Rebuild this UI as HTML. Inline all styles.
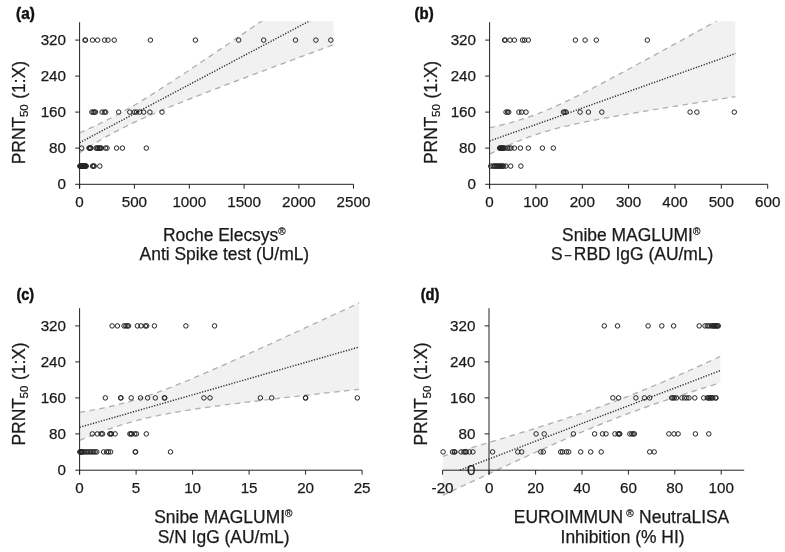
<!DOCTYPE html>
<html><head><meta charset="utf-8"><title>Figure</title>
<style>
html,body{margin:0;padding:0;background:#fff;}
body{width:785px;height:552px;overflow:hidden;}
svg{display:block;filter:grayscale(1);font-family:"Liberation Sans",Arial,sans-serif;}
</style></head><body>
<svg width="785" height="552" viewBox="0 0 785 552">
<rect width="785" height="552" fill="#fff"/>
<clipPath id="clipa"><rect x="79.6" y="21.2" width="254.1" height="178.8"/></clipPath>
<g clip-path="url(#clipa)">
<polygon points="79.6,132.9 83.8,131.0 88.1,129.1 92.3,127.2 96.5,125.2 100.8,123.2 105.0,121.1 109.2,119.0 113.5,116.8 117.7,114.5 121.9,112.2 126.2,109.9 130.4,107.4 134.7,105.0 138.9,102.4 143.1,99.9 147.4,97.3 151.6,94.6 155.8,92.0 160.1,89.3 164.3,86.5 168.5,83.8 172.8,81.0 177.0,78.3 181.2,75.5 185.5,72.7 189.7,69.8 193.9,67.0 198.2,64.2 202.4,61.3 206.6,58.5 210.9,55.6 215.1,52.8 219.4,49.9 223.6,47.0 227.8,44.2 232.1,41.3 236.3,38.4 240.5,35.5 244.8,32.6 249.0,29.7 253.2,26.9 257.5,24.0 261.7,21.1 265.9,18.2 270.2,15.3 274.4,12.4 278.6,9.5 282.9,6.6 287.1,3.6 291.4,0.7 295.6,-2.2 299.8,-5.1 304.1,-8.0 308.3,-10.9 312.5,-13.8 316.8,-16.7 321.0,-19.6 325.2,-22.6 329.5,-25.5 333.7,-28.4 333.7,44.6 329.5,46.2 325.2,47.7 321.0,49.3 316.8,50.9 312.5,52.5 308.3,54.0 304.1,55.6 299.8,57.2 295.6,58.8 291.4,60.3 287.1,61.9 282.9,63.5 278.6,65.1 274.4,66.7 270.2,68.3 265.9,69.8 261.7,71.4 257.5,73.0 253.2,74.6 249.0,76.2 244.8,77.8 240.5,79.4 236.3,81.0 232.1,82.6 227.8,84.2 223.6,85.8 219.4,87.5 215.1,89.1 210.9,90.7 206.6,92.4 202.4,94.0 198.2,95.6 193.9,97.3 189.7,99.0 185.5,100.6 181.2,102.3 177.0,104.0 172.8,105.7 168.5,107.5 164.3,109.2 160.1,111.0 155.8,112.8 151.6,114.6 147.4,116.4 143.1,118.3 138.9,120.2 134.7,122.2 130.4,124.2 126.2,126.3 121.9,128.4 117.7,130.6 113.5,132.8 109.2,135.1 105.0,137.4 100.8,139.9 96.5,142.3 92.3,144.8 88.1,147.4 83.8,150.0 79.6,152.6" fill="#f1f1f1"/>
<polyline points="79.6,132.9 83.8,131.0 88.1,129.1 92.3,127.2 96.5,125.2 100.8,123.2 105.0,121.1 109.2,119.0 113.5,116.8 117.7,114.5 121.9,112.2 126.2,109.9 130.4,107.4 134.7,105.0 138.9,102.4 143.1,99.9 147.4,97.3 151.6,94.6 155.8,92.0 160.1,89.3 164.3,86.5 168.5,83.8 172.8,81.0 177.0,78.3 181.2,75.5 185.5,72.7 189.7,69.8 193.9,67.0 198.2,64.2 202.4,61.3 206.6,58.5 210.9,55.6 215.1,52.8 219.4,49.9 223.6,47.0 227.8,44.2 232.1,41.3 236.3,38.4 240.5,35.5 244.8,32.6 249.0,29.7 253.2,26.9 257.5,24.0 261.7,21.1 265.9,18.2 270.2,15.3 274.4,12.4 278.6,9.5 282.9,6.6 287.1,3.6 291.4,0.7 295.6,-2.2 299.8,-5.1 304.1,-8.0 308.3,-10.9 312.5,-13.8 316.8,-16.7 321.0,-19.6 325.2,-22.6 329.5,-25.5 333.7,-28.4" fill="none" stroke="#b0b0b0" stroke-width="1.35" stroke-dasharray="5.5 4.5"/>
<polyline points="79.6,152.6 83.8,150.0 88.1,147.4 92.3,144.8 96.5,142.3 100.8,139.9 105.0,137.4 109.2,135.1 113.5,132.8 117.7,130.6 121.9,128.4 126.2,126.3 130.4,124.2 134.7,122.2 138.9,120.2 143.1,118.3 147.4,116.4 151.6,114.6 155.8,112.8 160.1,111.0 164.3,109.2 168.5,107.5 172.8,105.7 177.0,104.0 181.2,102.3 185.5,100.6 189.7,99.0 193.9,97.3 198.2,95.6 202.4,94.0 206.6,92.4 210.9,90.7 215.1,89.1 219.4,87.5 223.6,85.8 227.8,84.2 232.1,82.6 236.3,81.0 240.5,79.4 244.8,77.8 249.0,76.2 253.2,74.6 257.5,73.0 261.7,71.4 265.9,69.8 270.2,68.3 274.4,66.7 278.6,65.1 282.9,63.5 287.1,61.9 291.4,60.3 295.6,58.8 299.8,57.2 304.1,55.6 308.3,54.0 312.5,52.5 316.8,50.9 321.0,49.3 325.2,47.7 329.5,46.2 333.7,44.6" fill="none" stroke="#b0b0b0" stroke-width="1.35" stroke-dasharray="5.5 4.5"/>
<line x1="79.6" y1="142.7" x2="333.7" y2="8.1" stroke="#2a2a2a" stroke-width="1.4" stroke-dasharray="1.25 1.52"/>
</g>
<g stroke="#222" stroke-width="1" fill="none">
<line x1="79.6" y1="22.2" x2="79.6" y2="188.70000000000002"/>
<line x1="75.19999999999999" y1="184.3" x2="353.5" y2="184.3"/>
<line x1="75.19999999999999" y1="148.1" x2="79.6" y2="148.1"/>
<line x1="75.19999999999999" y1="112.1" x2="79.6" y2="112.1"/>
<line x1="75.19999999999999" y1="76.1" x2="79.6" y2="76.1"/>
<line x1="75.19999999999999" y1="40.1" x2="79.6" y2="40.1"/>
<line x1="79.6" y1="184.3" x2="79.6" y2="188.70000000000002"/>
<line x1="134.4" y1="184.3" x2="134.4" y2="188.70000000000002"/>
<line x1="189.3" y1="184.3" x2="189.3" y2="188.70000000000002"/>
<line x1="244.1" y1="184.3" x2="244.1" y2="188.70000000000002"/>
<line x1="298.9" y1="184.3" x2="298.9" y2="188.70000000000002"/>
<line x1="353.5" y1="184.3" x2="353.5" y2="188.70000000000002"/>
</g>
<g font-size="15.2" fill="#1a1a1a" stroke="#1a1a1a" stroke-width="0.25">
<text x="66.0" y="188.8" text-anchor="end">0</text>
<text x="66.0" y="152.8" text-anchor="end">80</text>
<text x="66.0" y="116.8" text-anchor="end">160</text>
<text x="66.0" y="80.8" text-anchor="end">240</text>
<text x="66.0" y="44.8" text-anchor="end">320</text>
<text x="79.6" y="207.4" text-anchor="middle">0</text>
<text x="134.4" y="207.4" text-anchor="middle">500</text>
<text x="189.3" y="207.4" text-anchor="middle">1000</text>
<text x="244.1" y="207.4" text-anchor="middle">1500</text>
<text x="298.9" y="207.4" text-anchor="middle">2000</text>
<text x="353.5" y="207.4" text-anchor="middle">2500</text>
</g>
<g fill="none" stroke="#242424" stroke-width="1.0">
<circle cx="85.0" cy="40.1" r="2.25"/>
<circle cx="85.5" cy="40.1" r="2.25"/>
<circle cx="92.5" cy="40.1" r="2.25"/>
<circle cx="97.6" cy="40.1" r="2.25"/>
<circle cx="104.6" cy="40.1" r="2.25"/>
<circle cx="108.0" cy="40.1" r="2.25"/>
<circle cx="114.2" cy="40.1" r="2.25"/>
<circle cx="150.4" cy="40.1" r="2.25"/>
<circle cx="195.4" cy="40.1" r="2.25"/>
<circle cx="238.7" cy="40.1" r="2.25"/>
<circle cx="263.7" cy="40.1" r="2.25"/>
<circle cx="295.5" cy="40.1" r="2.25"/>
<circle cx="315.9" cy="40.1" r="2.25"/>
<circle cx="330.8" cy="40.1" r="2.25"/>
<circle cx="91.9" cy="112.1" r="2.25"/>
<circle cx="93.2" cy="112.1" r="2.25"/>
<circle cx="94.3" cy="112.1" r="2.25"/>
<circle cx="95.5" cy="112.1" r="2.25"/>
<circle cx="102.1" cy="112.1" r="2.25"/>
<circle cx="104.4" cy="112.1" r="2.25"/>
<circle cx="105.7" cy="112.1" r="2.25"/>
<circle cx="118.7" cy="112.1" r="2.25"/>
<circle cx="129.8" cy="112.1" r="2.25"/>
<circle cx="134.4" cy="112.1" r="2.25"/>
<circle cx="136.5" cy="112.1" r="2.25"/>
<circle cx="139.6" cy="112.1" r="2.25"/>
<circle cx="143.7" cy="112.1" r="2.25"/>
<circle cx="149.9" cy="112.1" r="2.25"/>
<circle cx="162.0" cy="112.1" r="2.25"/>
<circle cx="81.6" cy="148.1" r="2.25"/>
<circle cx="89.0" cy="148.1" r="2.25"/>
<circle cx="89.6" cy="148.1" r="2.25"/>
<circle cx="90.2" cy="148.1" r="2.25"/>
<circle cx="90.8" cy="148.1" r="2.25"/>
<circle cx="96.0" cy="148.1" r="2.25"/>
<circle cx="97.0" cy="148.1" r="2.25"/>
<circle cx="97.8" cy="148.1" r="2.25"/>
<circle cx="99.0" cy="148.1" r="2.25"/>
<circle cx="99.6" cy="148.1" r="2.25"/>
<circle cx="100.5" cy="148.1" r="2.25"/>
<circle cx="101.3" cy="148.1" r="2.25"/>
<circle cx="105.5" cy="148.1" r="2.25"/>
<circle cx="107.0" cy="148.1" r="2.25"/>
<circle cx="116.6" cy="148.1" r="2.25"/>
<circle cx="122.4" cy="148.1" r="2.25"/>
<circle cx="146.3" cy="148.1" r="2.25"/>
<circle cx="79.8" cy="166.1" r="2.25"/>
<circle cx="80.2" cy="166.1" r="2.25"/>
<circle cx="80.7" cy="166.1" r="2.25"/>
<circle cx="81.1" cy="166.1" r="2.25"/>
<circle cx="81.5" cy="166.1" r="2.25"/>
<circle cx="81.9" cy="166.1" r="2.25"/>
<circle cx="82.4" cy="166.1" r="2.25"/>
<circle cx="82.8" cy="166.1" r="2.25"/>
<circle cx="83.2" cy="166.1" r="2.25"/>
<circle cx="83.6" cy="166.1" r="2.25"/>
<circle cx="84.1" cy="166.1" r="2.25"/>
<circle cx="84.5" cy="166.1" r="2.25"/>
<circle cx="84.9" cy="166.1" r="2.25"/>
<circle cx="85.3" cy="166.1" r="2.25"/>
<circle cx="85.8" cy="166.1" r="2.25"/>
<circle cx="86.2" cy="166.1" r="2.25"/>
<circle cx="92.5" cy="166.1" r="2.25"/>
<circle cx="93.5" cy="166.1" r="2.25"/>
<circle cx="94.2" cy="166.1" r="2.25"/>
<circle cx="99.8" cy="166.1" r="2.25"/>
</g>
<g transform="translate(24.6,163.0) rotate(-90)" font-size="17.45" fill="#1a1a1a" stroke="#1a1a1a" stroke-width="0.25">
<text x="-1.3" y="0">PRNT</text><text x="45.9" y="3.8" font-size="11.6">50</text><text x="64.2" y="0">(1:X)</text></g>
<text x="224.3" y="240.5" font-size="17.45" fill="#1a1a1a" stroke="#1a1a1a" stroke-width="0.25" text-anchor="middle">Roche Elecsys<tspan font-size="10" dy="-6">®</tspan></text>
<text x="224.4" y="260.4" font-size="17.45" fill="#1a1a1a" stroke="#1a1a1a" stroke-width="0.25" text-anchor="middle">Anti Spike test (U/mL)</text>
<text x="16.1" y="18.8" font-size="16" font-weight="bold" fill="#111" stroke="#111" stroke-width="0.45" textLength="18.7" lengthAdjust="spacingAndGlyphs">(a)</text>
<clipPath id="clipb"><rect x="489.6" y="21.2" width="246.0" height="178.8"/></clipPath>
<g clip-path="url(#clipb)">
<polygon points="489.6,127.8 493.7,126.9 497.8,125.9 501.9,124.9 506.0,123.9 510.1,122.8 514.2,121.6 518.3,120.4 522.4,119.1 526.5,117.8 530.6,116.4 534.7,114.9 538.8,113.3 542.9,111.7 547.0,110.0 551.1,108.3 555.2,106.5 559.3,104.6 563.4,102.7 567.5,100.8 571.6,98.8 575.7,96.8 579.8,94.7 583.9,92.7 588.0,90.6 592.1,88.5 596.2,86.4 600.3,84.2 604.4,82.1 608.5,79.9 612.6,77.7 616.7,75.6 620.8,73.4 624.9,71.2 629.0,69.0 633.1,66.7 637.2,64.5 641.3,62.3 645.4,60.1 649.5,57.8 653.6,55.6 657.7,53.4 661.8,51.1 665.9,48.9 670.0,46.6 674.1,44.4 678.2,42.1 682.3,39.8 686.4,37.6 690.5,35.3 694.6,33.1 698.7,30.8 702.8,28.5 706.9,26.3 711.0,24.0 715.1,21.7 719.2,19.5 723.3,17.2 727.4,14.9 731.5,12.6 735.6,10.4 735.6,96.7 731.5,97.3 727.4,97.9 723.3,98.6 719.2,99.2 715.1,99.9 711.0,100.5 706.9,101.2 702.8,101.8 698.7,102.5 694.6,103.1 690.5,103.8 686.4,104.4 682.3,105.1 678.2,105.7 674.1,106.4 670.0,107.1 665.9,107.7 661.8,108.4 657.7,109.1 653.6,109.7 649.5,110.4 645.4,111.1 641.3,111.8 637.2,112.5 633.1,113.2 629.0,113.9 624.9,114.6 620.8,115.3 616.7,116.0 612.6,116.7 608.5,117.5 604.4,118.2 600.3,119.0 596.2,119.8 592.1,120.6 588.0,121.4 583.9,122.2 579.8,123.0 575.7,123.9 571.6,124.8 567.5,125.8 563.4,126.7 559.3,127.7 555.2,128.8 551.1,129.9 547.0,131.1 542.9,132.3 538.8,133.6 534.7,135.0 530.6,136.4 526.5,137.9 522.4,139.5 518.3,141.1 514.2,142.8 510.1,144.6 506.0,146.4 501.9,148.2 497.8,150.1 493.7,152.1 489.6,154.1" fill="#f1f1f1"/>
<polyline points="489.6,127.8 493.7,126.9 497.8,125.9 501.9,124.9 506.0,123.9 510.1,122.8 514.2,121.6 518.3,120.4 522.4,119.1 526.5,117.8 530.6,116.4 534.7,114.9 538.8,113.3 542.9,111.7 547.0,110.0 551.1,108.3 555.2,106.5 559.3,104.6 563.4,102.7 567.5,100.8 571.6,98.8 575.7,96.8 579.8,94.7 583.9,92.7 588.0,90.6 592.1,88.5 596.2,86.4 600.3,84.2 604.4,82.1 608.5,79.9 612.6,77.7 616.7,75.6 620.8,73.4 624.9,71.2 629.0,69.0 633.1,66.7 637.2,64.5 641.3,62.3 645.4,60.1 649.5,57.8 653.6,55.6 657.7,53.4 661.8,51.1 665.9,48.9 670.0,46.6 674.1,44.4 678.2,42.1 682.3,39.8 686.4,37.6 690.5,35.3 694.6,33.1 698.7,30.8 702.8,28.5 706.9,26.3 711.0,24.0 715.1,21.7 719.2,19.5 723.3,17.2 727.4,14.9 731.5,12.6 735.6,10.4" fill="none" stroke="#b0b0b0" stroke-width="1.35" stroke-dasharray="5.5 4.5"/>
<polyline points="489.6,154.1 493.7,152.1 497.8,150.1 501.9,148.2 506.0,146.4 510.1,144.6 514.2,142.8 518.3,141.1 522.4,139.5 526.5,137.9 530.6,136.4 534.7,135.0 538.8,133.6 542.9,132.3 547.0,131.1 551.1,129.9 555.2,128.8 559.3,127.7 563.4,126.7 567.5,125.8 571.6,124.8 575.7,123.9 579.8,123.0 583.9,122.2 588.0,121.4 592.1,120.6 596.2,119.8 600.3,119.0 604.4,118.2 608.5,117.5 612.6,116.7 616.7,116.0 620.8,115.3 624.9,114.6 629.0,113.9 633.1,113.2 637.2,112.5 641.3,111.8 645.4,111.1 649.5,110.4 653.6,109.7 657.7,109.1 661.8,108.4 665.9,107.7 670.0,107.1 674.1,106.4 678.2,105.7 682.3,105.1 686.4,104.4 690.5,103.8 694.6,103.1 698.7,102.5 702.8,101.8 706.9,101.2 711.0,100.5 715.1,99.9 719.2,99.2 723.3,98.6 727.4,97.9 731.5,97.3 735.6,96.7" fill="none" stroke="#b0b0b0" stroke-width="1.35" stroke-dasharray="5.5 4.5"/>
<line x1="489.6" y1="141.0" x2="735.6" y2="53.5" stroke="#2a2a2a" stroke-width="1.4" stroke-dasharray="1.25 1.52"/>
</g>
<g stroke="#222" stroke-width="1" fill="none">
<line x1="489.6" y1="22.2" x2="489.6" y2="188.70000000000002"/>
<line x1="485.20000000000005" y1="184.3" x2="767.7" y2="184.3"/>
<line x1="485.20000000000005" y1="148.1" x2="489.6" y2="148.1"/>
<line x1="485.20000000000005" y1="112.1" x2="489.6" y2="112.1"/>
<line x1="485.20000000000005" y1="76.1" x2="489.6" y2="76.1"/>
<line x1="485.20000000000005" y1="40.1" x2="489.6" y2="40.1"/>
<line x1="489.6" y1="184.3" x2="489.6" y2="188.70000000000002"/>
<line x1="535.9" y1="184.3" x2="535.9" y2="188.70000000000002"/>
<line x1="582.3" y1="184.3" x2="582.3" y2="188.70000000000002"/>
<line x1="628.6" y1="184.3" x2="628.6" y2="188.70000000000002"/>
<line x1="675.0" y1="184.3" x2="675.0" y2="188.70000000000002"/>
<line x1="721.3" y1="184.3" x2="721.3" y2="188.70000000000002"/>
<line x1="767.7" y1="184.3" x2="767.7" y2="188.70000000000002"/>
</g>
<g font-size="15.2" fill="#1a1a1a" stroke="#1a1a1a" stroke-width="0.25">
<text x="476.0" y="188.8" text-anchor="end">0</text>
<text x="476.0" y="152.8" text-anchor="end">80</text>
<text x="476.0" y="116.8" text-anchor="end">160</text>
<text x="476.0" y="80.8" text-anchor="end">240</text>
<text x="476.0" y="44.8" text-anchor="end">320</text>
<text x="489.6" y="207.4" text-anchor="middle">0</text>
<text x="535.9" y="207.4" text-anchor="middle">100</text>
<text x="582.3" y="207.4" text-anchor="middle">200</text>
<text x="628.6" y="207.4" text-anchor="middle">300</text>
<text x="675.0" y="207.4" text-anchor="middle">400</text>
<text x="721.3" y="207.4" text-anchor="middle">500</text>
<text x="767.7" y="207.4" text-anchor="middle">600</text>
</g>
<g fill="none" stroke="#242424" stroke-width="1.0">
<circle cx="504.6" cy="40.1" r="2.25"/>
<circle cx="505.2" cy="40.1" r="2.25"/>
<circle cx="510.0" cy="40.1" r="2.25"/>
<circle cx="514.4" cy="40.1" r="2.25"/>
<circle cx="522.5" cy="40.1" r="2.25"/>
<circle cx="524.6" cy="40.1" r="2.25"/>
<circle cx="528.3" cy="40.1" r="2.25"/>
<circle cx="575.4" cy="40.1" r="2.25"/>
<circle cx="585.1" cy="40.1" r="2.25"/>
<circle cx="596.3" cy="40.1" r="2.25"/>
<circle cx="647.3" cy="40.1" r="2.25"/>
<circle cx="506.0" cy="112.1" r="2.25"/>
<circle cx="507.6" cy="112.1" r="2.25"/>
<circle cx="508.7" cy="112.1" r="2.25"/>
<circle cx="518.9" cy="112.1" r="2.25"/>
<circle cx="521.6" cy="112.1" r="2.25"/>
<circle cx="526.0" cy="112.1" r="2.25"/>
<circle cx="563.5" cy="112.1" r="2.25"/>
<circle cx="564.9" cy="112.1" r="2.25"/>
<circle cx="566.1" cy="112.1" r="2.25"/>
<circle cx="580.1" cy="112.1" r="2.25"/>
<circle cx="588.4" cy="112.1" r="2.25"/>
<circle cx="601.8" cy="112.1" r="2.25"/>
<circle cx="690.1" cy="112.1" r="2.25"/>
<circle cx="696.9" cy="112.1" r="2.25"/>
<circle cx="734.3" cy="112.1" r="2.25"/>
<circle cx="499.6" cy="148.1" r="2.25"/>
<circle cx="500.2" cy="148.1" r="2.25"/>
<circle cx="500.7" cy="148.1" r="2.25"/>
<circle cx="501.3" cy="148.1" r="2.25"/>
<circle cx="501.9" cy="148.1" r="2.25"/>
<circle cx="502.5" cy="148.1" r="2.25"/>
<circle cx="503.0" cy="148.1" r="2.25"/>
<circle cx="503.6" cy="148.1" r="2.25"/>
<circle cx="505.2" cy="148.1" r="2.25"/>
<circle cx="507.5" cy="148.1" r="2.25"/>
<circle cx="509.1" cy="148.1" r="2.25"/>
<circle cx="511.0" cy="148.1" r="2.25"/>
<circle cx="514.4" cy="148.1" r="2.25"/>
<circle cx="520.4" cy="148.1" r="2.25"/>
<circle cx="528.3" cy="148.1" r="2.25"/>
<circle cx="542.4" cy="148.1" r="2.25"/>
<circle cx="553.3" cy="148.1" r="2.25"/>
<circle cx="490.7" cy="166.1" r="2.25"/>
<circle cx="493.0" cy="166.1" r="2.25"/>
<circle cx="494.1" cy="166.1" r="2.25"/>
<circle cx="495.1" cy="166.1" r="2.25"/>
<circle cx="496.2" cy="166.1" r="2.25"/>
<circle cx="497.2" cy="166.1" r="2.25"/>
<circle cx="498.3" cy="166.1" r="2.25"/>
<circle cx="499.4" cy="166.1" r="2.25"/>
<circle cx="500.4" cy="166.1" r="2.25"/>
<circle cx="501.5" cy="166.1" r="2.25"/>
<circle cx="502.5" cy="166.1" r="2.25"/>
<circle cx="503.6" cy="166.1" r="2.25"/>
<circle cx="505.8" cy="166.1" r="2.25"/>
<circle cx="510.7" cy="166.1" r="2.25"/>
<circle cx="520.9" cy="166.1" r="2.25"/>
</g>
<g transform="translate(436.5,162.8) rotate(-90)" font-size="17.45" fill="#1a1a1a" stroke="#1a1a1a" stroke-width="0.25">
<text x="-1.3" y="0">PRNT</text><text x="45.9" y="3.8" font-size="11.6">50</text><text x="64.2" y="0">(1:X)</text></g>
<text x="631.2" y="240.5" font-size="17.45" fill="#1a1a1a" stroke="#1a1a1a" stroke-width="0.25" text-anchor="middle">Snibe MAGLUMI<tspan font-size="10" dy="-6">®</tspan></text>
<text x="632.2" y="260.4" font-size="17.45" fill="#1a1a1a" stroke="#1a1a1a" stroke-width="0.25" text-anchor="middle">S<tspan font-size="13" dx="1.6">−</tspan><tspan dx="2">RBD IgG (AU/mL)</tspan></text>
<text x="414.6" y="18.8" font-size="16" font-weight="bold" fill="#111" stroke="#111" stroke-width="0.45" textLength="19.1" lengthAdjust="spacingAndGlyphs">(b)</text>
<clipPath id="clipc"><rect x="79.6" y="300" width="279.6" height="190"/></clipPath>
<g clip-path="url(#clipc)">
<polygon points="79.6,412.4 84.3,411.6 88.9,410.8 93.6,409.9 98.2,409.0 102.9,408.1 107.6,407.1 112.2,406.0 116.9,404.9 121.5,403.7 126.2,402.5 130.9,401.2 135.5,399.8 140.2,398.3 144.8,396.8 149.5,395.2 154.2,393.6 158.8,391.9 163.5,390.2 168.1,388.4 172.8,386.5 177.5,384.7 182.1,382.8 186.8,380.9 191.4,378.9 196.1,376.9 200.8,374.9 205.4,372.9 210.1,370.9 214.7,368.9 219.4,366.8 224.1,364.8 228.7,362.7 233.4,360.6 238.0,358.5 242.7,356.4 247.4,354.3 252.0,352.2 256.7,350.1 261.3,348.0 266.0,345.9 270.7,343.8 275.3,341.6 280.0,339.5 284.6,337.4 289.3,335.2 294.0,333.1 298.6,331.0 303.3,328.8 307.9,326.7 312.6,324.5 317.3,322.4 321.9,320.2 326.6,318.1 331.2,315.9 335.9,313.7 340.6,311.6 345.2,309.4 349.9,307.3 354.5,305.1 359.2,302.9 359.2,389.3 354.5,389.8 349.9,390.3 345.2,390.8 340.6,391.4 335.9,391.9 331.2,392.4 326.6,392.9 321.9,393.4 317.3,394.0 312.6,394.5 307.9,395.0 303.3,395.5 298.6,396.1 294.0,396.6 289.3,397.1 284.6,397.7 280.0,398.2 275.3,398.8 270.7,399.3 266.0,399.9 261.3,400.4 256.7,401.0 252.0,401.5 247.4,402.1 242.7,402.7 238.0,403.3 233.4,403.8 228.7,404.4 224.1,405.0 219.4,405.7 214.7,406.3 210.1,406.9 205.4,407.6 200.8,408.2 196.1,408.9 191.4,409.6 186.8,410.4 182.1,411.1 177.5,411.9 172.8,412.7 168.1,413.6 163.5,414.4 158.8,415.4 154.2,416.4 149.5,417.4 144.8,418.5 140.2,419.6 135.5,420.9 130.9,422.1 126.2,423.5 121.5,424.9 116.9,426.4 112.2,428.0 107.6,429.6 102.9,431.3 98.2,433.0 93.6,434.8 88.9,436.6 84.3,438.4 79.6,440.3" fill="#f1f1f1"/>
<polyline points="79.6,412.4 84.3,411.6 88.9,410.8 93.6,409.9 98.2,409.0 102.9,408.1 107.6,407.1 112.2,406.0 116.9,404.9 121.5,403.7 126.2,402.5 130.9,401.2 135.5,399.8 140.2,398.3 144.8,396.8 149.5,395.2 154.2,393.6 158.8,391.9 163.5,390.2 168.1,388.4 172.8,386.5 177.5,384.7 182.1,382.8 186.8,380.9 191.4,378.9 196.1,376.9 200.8,374.9 205.4,372.9 210.1,370.9 214.7,368.9 219.4,366.8 224.1,364.8 228.7,362.7 233.4,360.6 238.0,358.5 242.7,356.4 247.4,354.3 252.0,352.2 256.7,350.1 261.3,348.0 266.0,345.9 270.7,343.8 275.3,341.6 280.0,339.5 284.6,337.4 289.3,335.2 294.0,333.1 298.6,331.0 303.3,328.8 307.9,326.7 312.6,324.5 317.3,322.4 321.9,320.2 326.6,318.1 331.2,315.9 335.9,313.7 340.6,311.6 345.2,309.4 349.9,307.3 354.5,305.1 359.2,302.9" fill="none" stroke="#b0b0b0" stroke-width="1.35" stroke-dasharray="5.5 4.5"/>
<polyline points="79.6,440.3 84.3,438.4 88.9,436.6 93.6,434.8 98.2,433.0 102.9,431.3 107.6,429.6 112.2,428.0 116.9,426.4 121.5,424.9 126.2,423.5 130.9,422.1 135.5,420.9 140.2,419.6 144.8,418.5 149.5,417.4 154.2,416.4 158.8,415.4 163.5,414.4 168.1,413.6 172.8,412.7 177.5,411.9 182.1,411.1 186.8,410.4 191.4,409.6 196.1,408.9 200.8,408.2 205.4,407.6 210.1,406.9 214.7,406.3 219.4,405.7 224.1,405.0 228.7,404.4 233.4,403.8 238.0,403.3 242.7,402.7 247.4,402.1 252.0,401.5 256.7,401.0 261.3,400.4 266.0,399.9 270.7,399.3 275.3,398.8 280.0,398.2 284.6,397.7 289.3,397.1 294.0,396.6 298.6,396.1 303.3,395.5 307.9,395.0 312.6,394.5 317.3,394.0 321.9,393.4 326.6,392.9 331.2,392.4 335.9,391.9 340.6,391.4 345.2,390.8 349.9,390.3 354.5,389.8 359.2,389.3" fill="none" stroke="#b0b0b0" stroke-width="1.35" stroke-dasharray="5.5 4.5"/>
<line x1="79.6" y1="427.3" x2="359.2" y2="347.0" stroke="#2a2a2a" stroke-width="1.4" stroke-dasharray="1.25 1.52"/>
</g>
<g stroke="#222" stroke-width="1" fill="none">
<line x1="79.6" y1="308.2" x2="79.6" y2="474.59999999999997"/>
<line x1="75.19999999999999" y1="470.2" x2="362.1" y2="470.2"/>
<line x1="75.19999999999999" y1="433.9" x2="79.6" y2="433.9"/>
<line x1="75.19999999999999" y1="397.9" x2="79.6" y2="397.9"/>
<line x1="75.19999999999999" y1="361.9" x2="79.6" y2="361.9"/>
<line x1="75.19999999999999" y1="325.9" x2="79.6" y2="325.9"/>
<line x1="79.6" y1="470.2" x2="79.6" y2="474.59999999999997"/>
<line x1="136.1" y1="470.2" x2="136.1" y2="474.59999999999997"/>
<line x1="192.6" y1="470.2" x2="192.6" y2="474.59999999999997"/>
<line x1="249.1" y1="470.2" x2="249.1" y2="474.59999999999997"/>
<line x1="305.6" y1="470.2" x2="305.6" y2="474.59999999999997"/>
<line x1="362.1" y1="470.2" x2="362.1" y2="474.59999999999997"/>
</g>
<g font-size="15.2" fill="#1a1a1a" stroke="#1a1a1a" stroke-width="0.25">
<text x="66.0" y="474.7" text-anchor="end">0</text>
<text x="66.0" y="438.7" text-anchor="end">80</text>
<text x="66.0" y="402.7" text-anchor="end">160</text>
<text x="66.0" y="366.7" text-anchor="end">240</text>
<text x="66.0" y="330.7" text-anchor="end">320</text>
<text x="79.6" y="493.3" text-anchor="middle">0</text>
<text x="136.1" y="493.3" text-anchor="middle">5</text>
<text x="192.6" y="493.3" text-anchor="middle">10</text>
<text x="249.1" y="493.3" text-anchor="middle">15</text>
<text x="305.6" y="493.3" text-anchor="middle">20</text>
<text x="362.1" y="493.3" text-anchor="middle">25</text>
</g>
<g fill="none" stroke="#242424" stroke-width="1.0">
<circle cx="112.1" cy="325.9" r="2.25"/>
<circle cx="117.4" cy="325.9" r="2.25"/>
<circle cx="124.0" cy="325.9" r="2.25"/>
<circle cx="125.8" cy="325.9" r="2.25"/>
<circle cx="127.3" cy="325.9" r="2.25"/>
<circle cx="128.5" cy="325.9" r="2.25"/>
<circle cx="137.4" cy="325.9" r="2.25"/>
<circle cx="141.0" cy="325.9" r="2.25"/>
<circle cx="145.4" cy="325.9" r="2.25"/>
<circle cx="146.7" cy="325.9" r="2.25"/>
<circle cx="154.4" cy="325.9" r="2.25"/>
<circle cx="185.9" cy="325.9" r="2.25"/>
<circle cx="214.6" cy="325.9" r="2.25"/>
<circle cx="105.3" cy="397.9" r="2.25"/>
<circle cx="120.6" cy="397.9" r="2.25"/>
<circle cx="121.0" cy="397.9" r="2.25"/>
<circle cx="131.2" cy="397.9" r="2.25"/>
<circle cx="140.5" cy="397.9" r="2.25"/>
<circle cx="147.6" cy="397.9" r="2.25"/>
<circle cx="155.3" cy="397.9" r="2.25"/>
<circle cx="164.3" cy="397.9" r="2.25"/>
<circle cx="164.8" cy="397.9" r="2.25"/>
<circle cx="203.9" cy="397.9" r="2.25"/>
<circle cx="210.0" cy="397.9" r="2.25"/>
<circle cx="260.4" cy="397.9" r="2.25"/>
<circle cx="271.7" cy="397.9" r="2.25"/>
<circle cx="305.5" cy="397.9" r="2.25"/>
<circle cx="305.7" cy="397.9" r="2.25"/>
<circle cx="357.3" cy="397.9" r="2.25"/>
<circle cx="92.3" cy="433.9" r="2.25"/>
<circle cx="97.3" cy="433.9" r="2.25"/>
<circle cx="101.2" cy="433.9" r="2.25"/>
<circle cx="102.6" cy="433.9" r="2.25"/>
<circle cx="109.8" cy="433.9" r="2.25"/>
<circle cx="110.8" cy="433.9" r="2.25"/>
<circle cx="111.4" cy="433.9" r="2.25"/>
<circle cx="115.1" cy="433.9" r="2.25"/>
<circle cx="129.9" cy="433.9" r="2.25"/>
<circle cx="131.0" cy="433.9" r="2.25"/>
<circle cx="131.6" cy="433.9" r="2.25"/>
<circle cx="134.7" cy="433.9" r="2.25"/>
<circle cx="136.5" cy="433.9" r="2.25"/>
<circle cx="146.3" cy="433.9" r="2.25"/>
<circle cx="79.8" cy="451.9" r="2.25"/>
<circle cx="80.4" cy="451.9" r="2.25"/>
<circle cx="80.9" cy="451.9" r="2.25"/>
<circle cx="81.5" cy="451.9" r="2.25"/>
<circle cx="82.0" cy="451.9" r="2.25"/>
<circle cx="82.6" cy="451.9" r="2.25"/>
<circle cx="84.2" cy="451.9" r="2.25"/>
<circle cx="85.8" cy="451.9" r="2.25"/>
<circle cx="87.3" cy="451.9" r="2.25"/>
<circle cx="88.9" cy="451.9" r="2.25"/>
<circle cx="90.5" cy="451.9" r="2.25"/>
<circle cx="92.1" cy="451.9" r="2.25"/>
<circle cx="93.7" cy="451.9" r="2.25"/>
<circle cx="95.2" cy="451.9" r="2.25"/>
<circle cx="96.8" cy="451.9" r="2.25"/>
<circle cx="103.6" cy="451.9" r="2.25"/>
<circle cx="106.7" cy="451.9" r="2.25"/>
<circle cx="108.5" cy="451.9" r="2.25"/>
<circle cx="110.6" cy="451.9" r="2.25"/>
<circle cx="135.2" cy="451.9" r="2.25"/>
<circle cx="135.7" cy="451.9" r="2.25"/>
<circle cx="170.5" cy="451.9" r="2.25"/>
</g>
<g transform="translate(24.6,444.3) rotate(-90)" font-size="17.45" fill="#1a1a1a" stroke="#1a1a1a" stroke-width="0.25">
<text x="-1.3" y="0">PRNT</text><text x="45.9" y="3.8" font-size="11.6">50</text><text x="64.2" y="0">(1:X)</text></g>
<text x="223.3" y="522.9" font-size="17.45" fill="#1a1a1a" stroke="#1a1a1a" stroke-width="0.25" text-anchor="middle">Snibe MAGLUMI<tspan font-size="10" dy="-6">®</tspan></text>
<text x="223.6" y="542.8" font-size="17.45" fill="#1a1a1a" stroke="#1a1a1a" stroke-width="0.25" text-anchor="middle">S/N IgG (AU/mL)</text>
<text x="16.5" y="299.9" font-size="16" font-weight="bold" fill="#111" stroke="#111" stroke-width="0.45" textLength="17.6" lengthAdjust="spacingAndGlyphs">(c)</text>
<clipPath id="clipd"><rect x="442.6" y="300" width="277.9" height="200"/></clipPath>
<g clip-path="url(#clipd)">
<polygon points="442.6,456.3 447.2,454.9 451.9,453.5 456.5,452.2 461.1,450.8 465.8,449.4 470.4,448.1 475.0,446.7 479.7,445.3 484.3,443.9 488.9,442.5 493.5,441.1 498.2,439.8 502.8,438.4 507.4,436.9 512.1,435.5 516.7,434.1 521.3,432.7 526.0,431.3 530.6,429.8 535.2,428.4 539.9,426.9 544.5,425.4 549.1,424.0 553.8,422.5 558.4,421.0 563.0,419.5 567.7,417.9 572.3,416.4 576.9,414.8 581.5,413.3 586.2,411.7 590.8,410.0 595.4,408.4 600.1,406.8 604.7,405.1 609.3,403.4 614.0,401.6 618.6,399.9 623.2,398.1 627.9,396.3 632.5,394.5 637.1,392.6 641.8,390.8 646.4,388.9 651.0,387.0 655.7,385.0 660.3,383.1 664.9,381.1 669.6,379.1 674.2,377.1 678.8,375.1 683.4,373.1 688.1,371.0 692.7,369.0 697.3,366.9 702.0,364.8 706.6,362.7 711.2,360.6 715.9,358.5 720.5,356.4 720.5,382.8 715.9,384.2 711.2,385.6 706.6,387.1 702.0,388.5 697.3,390.0 692.7,391.5 688.1,393.0 683.4,394.5 678.8,396.0 674.2,397.5 669.6,399.0 664.9,400.6 660.3,402.1 655.7,403.7 651.0,405.3 646.4,407.0 641.8,408.6 637.1,410.3 632.5,412.0 627.9,413.7 623.2,415.4 618.6,417.2 614.0,419.0 609.3,420.8 604.7,422.7 600.1,424.5 595.4,426.4 590.8,428.3 586.2,430.2 581.5,432.2 576.9,434.1 572.3,436.1 567.7,438.1 563.0,440.1 558.4,442.2 553.8,444.2 549.1,446.3 544.5,448.3 539.9,450.4 535.2,452.5 530.6,454.6 526.0,456.7 521.3,458.8 516.7,460.9 512.1,463.0 507.4,465.2 502.8,467.3 498.2,469.4 493.5,471.6 488.9,473.7 484.3,475.9 479.7,478.1 475.0,480.2 470.4,482.4 465.8,484.6 461.1,486.7 456.5,488.9 451.9,491.1 447.2,493.3 442.6,495.4" fill="#f1f1f1"/>
<polyline points="442.6,456.3 447.2,454.9 451.9,453.5 456.5,452.2 461.1,450.8 465.8,449.4 470.4,448.1 475.0,446.7 479.7,445.3 484.3,443.9 488.9,442.5 493.5,441.1 498.2,439.8 502.8,438.4 507.4,436.9 512.1,435.5 516.7,434.1 521.3,432.7 526.0,431.3 530.6,429.8 535.2,428.4 539.9,426.9 544.5,425.4 549.1,424.0 553.8,422.5 558.4,421.0 563.0,419.5 567.7,417.9 572.3,416.4 576.9,414.8 581.5,413.3 586.2,411.7 590.8,410.0 595.4,408.4 600.1,406.8 604.7,405.1 609.3,403.4 614.0,401.6 618.6,399.9 623.2,398.1 627.9,396.3 632.5,394.5 637.1,392.6 641.8,390.8 646.4,388.9 651.0,387.0 655.7,385.0 660.3,383.1 664.9,381.1 669.6,379.1 674.2,377.1 678.8,375.1 683.4,373.1 688.1,371.0 692.7,369.0 697.3,366.9 702.0,364.8 706.6,362.7 711.2,360.6 715.9,358.5 720.5,356.4" fill="none" stroke="#b0b0b0" stroke-width="1.35" stroke-dasharray="5.5 4.5"/>
<polyline points="442.6,495.4 447.2,493.3 451.9,491.1 456.5,488.9 461.1,486.7 465.8,484.6 470.4,482.4 475.0,480.2 479.7,478.1 484.3,475.9 488.9,473.7 493.5,471.6 498.2,469.4 502.8,467.3 507.4,465.2 512.1,463.0 516.7,460.9 521.3,458.8 526.0,456.7 530.6,454.6 535.2,452.5 539.9,450.4 544.5,448.3 549.1,446.3 553.8,444.2 558.4,442.2 563.0,440.1 567.7,438.1 572.3,436.1 576.9,434.1 581.5,432.2 586.2,430.2 590.8,428.3 595.4,426.4 600.1,424.5 604.7,422.7 609.3,420.8 614.0,419.0 618.6,417.2 623.2,415.4 627.9,413.7 632.5,412.0 637.1,410.3 641.8,408.6 646.4,407.0 651.0,405.3 655.7,403.7 660.3,402.1 664.9,400.6 669.6,399.0 674.2,397.5 678.8,396.0 683.4,394.5 688.1,393.0 692.7,391.5 697.3,390.0 702.0,388.5 706.6,387.1 711.2,385.6 715.9,384.2 720.5,382.8" fill="none" stroke="#b0b0b0" stroke-width="1.35" stroke-dasharray="5.5 4.5"/>
<line x1="460.0" y1="470.1" x2="720.5" y2="370.5" stroke="#2a2a2a" stroke-width="1.4" stroke-dasharray="1.25 1.52"/>
</g>
<g stroke="#222" stroke-width="1" fill="none">
<line x1="489.0" y1="308.2" x2="489.0" y2="474.59999999999997"/>
<line x1="442.6" y1="470.2" x2="744.2" y2="470.2"/>
<line x1="484.6" y1="433.9" x2="489.0" y2="433.9"/>
<line x1="484.6" y1="397.9" x2="489.0" y2="397.9"/>
<line x1="484.6" y1="361.9" x2="489.0" y2="361.9"/>
<line x1="484.6" y1="325.9" x2="489.0" y2="325.9"/>
<line x1="442.6" y1="470.2" x2="442.6" y2="474.59999999999997"/>
<line x1="489.2" y1="470.2" x2="489.2" y2="474.59999999999997"/>
<line x1="535.6" y1="470.2" x2="535.6" y2="474.59999999999997"/>
<line x1="582.0" y1="470.2" x2="582.0" y2="474.59999999999997"/>
<line x1="628.4" y1="470.2" x2="628.4" y2="474.59999999999997"/>
<line x1="674.8" y1="470.2" x2="674.8" y2="474.59999999999997"/>
<line x1="721.2" y1="470.2" x2="721.2" y2="474.59999999999997"/>
</g>
<g font-size="15.2" fill="#1a1a1a" stroke="#1a1a1a" stroke-width="0.25">
<text x="475.4" y="474.7" text-anchor="end">0</text>
<text x="475.4" y="438.7" text-anchor="end">80</text>
<text x="475.4" y="402.7" text-anchor="end">160</text>
<text x="475.4" y="366.7" text-anchor="end">240</text>
<text x="475.4" y="330.7" text-anchor="end">320</text>
<text x="442.6" y="493.3" text-anchor="middle">-20</text>
<text x="489.2" y="493.3" text-anchor="middle">0</text>
<text x="535.6" y="493.3" text-anchor="middle">20</text>
<text x="582.0" y="493.3" text-anchor="middle">40</text>
<text x="628.4" y="493.3" text-anchor="middle">60</text>
<text x="674.8" y="493.3" text-anchor="middle">80</text>
<text x="721.2" y="493.3" text-anchor="middle">100</text>
</g>
<g fill="none" stroke="#242424" stroke-width="1.0">
<circle cx="604.3" cy="325.9" r="2.25"/>
<circle cx="617.5" cy="325.9" r="2.25"/>
<circle cx="648.1" cy="325.9" r="2.25"/>
<circle cx="661.8" cy="325.9" r="2.25"/>
<circle cx="673.6" cy="325.9" r="2.25"/>
<circle cx="699.2" cy="325.9" r="2.25"/>
<circle cx="705.0" cy="325.9" r="2.25"/>
<circle cx="707.3" cy="325.9" r="2.25"/>
<circle cx="709.1" cy="325.9" r="2.25"/>
<circle cx="711.3" cy="325.9" r="2.25"/>
<circle cx="712.6" cy="325.9" r="2.25"/>
<circle cx="713.6" cy="325.9" r="2.25"/>
<circle cx="714.6" cy="325.9" r="2.25"/>
<circle cx="715.6" cy="325.9" r="2.25"/>
<circle cx="716.6" cy="325.9" r="2.25"/>
<circle cx="717.5" cy="325.9" r="2.25"/>
<circle cx="718.3" cy="325.9" r="2.25"/>
<circle cx="612.9" cy="397.9" r="2.25"/>
<circle cx="618.6" cy="397.9" r="2.25"/>
<circle cx="635.9" cy="397.9" r="2.25"/>
<circle cx="644.4" cy="397.9" r="2.25"/>
<circle cx="649.7" cy="397.9" r="2.25"/>
<circle cx="671.6" cy="397.9" r="2.25"/>
<circle cx="672.9" cy="397.9" r="2.25"/>
<circle cx="674.3" cy="397.9" r="2.25"/>
<circle cx="676.5" cy="397.9" r="2.25"/>
<circle cx="681.9" cy="397.9" r="2.25"/>
<circle cx="684.5" cy="397.9" r="2.25"/>
<circle cx="686.8" cy="397.9" r="2.25"/>
<circle cx="689.0" cy="397.9" r="2.25"/>
<circle cx="694.8" cy="397.9" r="2.25"/>
<circle cx="703.7" cy="397.9" r="2.25"/>
<circle cx="707.3" cy="397.9" r="2.25"/>
<circle cx="708.4" cy="397.9" r="2.25"/>
<circle cx="709.5" cy="397.9" r="2.25"/>
<circle cx="710.6" cy="397.9" r="2.25"/>
<circle cx="711.7" cy="397.9" r="2.25"/>
<circle cx="712.8" cy="397.9" r="2.25"/>
<circle cx="715.6" cy="397.9" r="2.25"/>
<circle cx="716.0" cy="397.9" r="2.25"/>
<circle cx="536.1" cy="433.9" r="2.25"/>
<circle cx="544.2" cy="433.9" r="2.25"/>
<circle cx="573.4" cy="433.9" r="2.25"/>
<circle cx="594.6" cy="433.9" r="2.25"/>
<circle cx="602.5" cy="433.9" r="2.25"/>
<circle cx="606.0" cy="433.9" r="2.25"/>
<circle cx="614.9" cy="433.9" r="2.25"/>
<circle cx="618.2" cy="433.9" r="2.25"/>
<circle cx="619.2" cy="433.9" r="2.25"/>
<circle cx="619.8" cy="433.9" r="2.25"/>
<circle cx="629.8" cy="433.9" r="2.25"/>
<circle cx="631.8" cy="433.9" r="2.25"/>
<circle cx="633.2" cy="433.9" r="2.25"/>
<circle cx="634.4" cy="433.9" r="2.25"/>
<circle cx="668.9" cy="433.9" r="2.25"/>
<circle cx="674.0" cy="433.9" r="2.25"/>
<circle cx="678.1" cy="433.9" r="2.25"/>
<circle cx="695.4" cy="433.9" r="2.25"/>
<circle cx="708.8" cy="433.9" r="2.25"/>
<circle cx="443.1" cy="451.9" r="2.25"/>
<circle cx="452.5" cy="451.9" r="2.25"/>
<circle cx="454.3" cy="451.9" r="2.25"/>
<circle cx="454.9" cy="451.9" r="2.25"/>
<circle cx="461.0" cy="451.9" r="2.25"/>
<circle cx="463.9" cy="451.9" r="2.25"/>
<circle cx="465.3" cy="451.9" r="2.25"/>
<circle cx="466.2" cy="451.9" r="2.25"/>
<circle cx="469.4" cy="451.9" r="2.25"/>
<circle cx="472.9" cy="451.9" r="2.25"/>
<circle cx="492.6" cy="451.9" r="2.25"/>
<circle cx="517.8" cy="451.9" r="2.25"/>
<circle cx="521.7" cy="451.9" r="2.25"/>
<circle cx="540.8" cy="451.9" r="2.25"/>
<circle cx="543.3" cy="451.9" r="2.25"/>
<circle cx="560.7" cy="451.9" r="2.25"/>
<circle cx="562.5" cy="451.9" r="2.25"/>
<circle cx="566.4" cy="451.9" r="2.25"/>
<circle cx="568.7" cy="451.9" r="2.25"/>
<circle cx="580.7" cy="451.9" r="2.25"/>
<circle cx="590.7" cy="451.9" r="2.25"/>
<circle cx="601.2" cy="451.9" r="2.25"/>
<circle cx="649.7" cy="451.9" r="2.25"/>
<circle cx="654.2" cy="451.9" r="2.25"/>
</g>
<g transform="translate(427.1,444.3) rotate(-90)" font-size="17.45" fill="#1a1a1a" stroke="#1a1a1a" stroke-width="0.25">
<text x="-1.3" y="0">PRNT</text><text x="45.9" y="3.8" font-size="11.6">50</text><text x="64.2" y="0">(1:X)</text></g>
<text x="621.5" y="522.7" font-size="17.45" fill="#1a1a1a" stroke="#1a1a1a" stroke-width="0.25" text-anchor="middle">EUROIMMUN<tspan font-size="10" dy="-6" dx="3">®</tspan><tspan dy="6" dx="5.5">NeutraLISA</tspan></text>
<text x="622.6" y="542.8" font-size="17.45" fill="#1a1a1a" stroke="#1a1a1a" stroke-width="0.25" text-anchor="middle">Inhibition (% HI)</text>
<text x="420.7" y="300" font-size="16" font-weight="bold" fill="#111" stroke="#111" stroke-width="0.45" textLength="18.7" lengthAdjust="spacingAndGlyphs">(d)</text>
</svg>
</body></html>
